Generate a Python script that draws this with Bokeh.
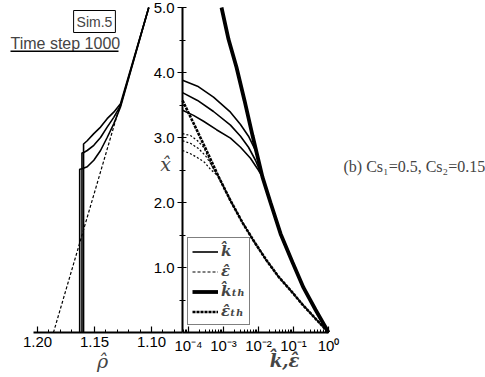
from bokeh.plotting import figure
from bokeh.models import (Range1d, LogScale, LinearAxis, LogAxis, FixedTicker,
                          PrintfTickFormatter, Label, Legend, LegendItem, BoxAnnotation)
from bokeh.embed import file_html
from bokeh.resources import INLINE

# ---------------- data ----------------
# left panel: chi_hat versus rho_hat (reversed axis)
rho_ticks = [1.20, 1.15, 1.10]
rho_tick_labels = ["1.20", "1.15", "1.10"]
rho_minor = [1.20, 1.19, 1.18, 1.17, 1.16, 1.15, 1.14, 1.13, 1.12, 1.11, 1.10, 1.09, 1.08]

eps_left_rho = [1.186, 1.1272]
eps_left_chi = [0.0, 3.52]

k1_left_rho = [1.1024, 1.1272, 1.1331, 1.1389, 1.1447, 1.1506, 1.1564, 1.1596, 1.1596]
k1_left_chi = [5.0, 3.52, 3.39, 3.29, 3.16, 3.06, 2.95, 2.90, 0.0]
k2_left_rho = [1.1024, 1.1272, 1.1331, 1.1389, 1.1447, 1.1506, 1.1564, 1.1594, 1.1610, 1.1610]
k2_left_chi = [5.0, 3.49, 3.31, 3.16, 3.00, 2.88, 2.80, 2.77, 2.76, 0.0]
k3_left_rho = [1.1024, 1.1272, 1.1331, 1.1389, 1.1447, 1.1506, 1.1564, 1.1608, 1.1630, 1.1630]
k3_left_chi = [5.0, 3.47, 3.21, 3.00, 2.80, 2.65, 2.55, 2.52, 2.51, 0.0]

# right panel: chi_hat versus k_hat, eps_hat (log axis)
k_ticks = [1e-4, 1e-3, 1e-2, 1e-1, 1.0]
k_tick_labels = ["10\u207b\u2074", "10\u207b\u00b3", "10\u207b\u00b2", "10\u207b\u00b9", "10\u2070"]

k_th_k = [8.77e-4, 1.39e-3, 2.35e-3, 3.98e-3, 6.75e-3, 1.30e-2, 2.20e-2, 4.26e-2, 9.35e-2, 0.193, 0.426, 1.0]
k_th_chi = [5.0, 4.51, 4.08, 3.57, 3.03, 2.39, 2.00, 1.52, 1.08, 0.69, 0.35, 0.0]

eps_th_k = [6.75e-5, 1.48e-4, 3.27e-4, 7.19e-4, 1.58e-3, 3.49e-3, 7.69e-3, 1.69e-2, 3.72e-2, 8.20e-2, 0.181, 0.398, 1.0]
eps_th_chi = [3.57, 3.19, 2.80, 2.40, 2.03, 1.69, 1.39, 1.11, 0.86, 0.65, 0.43, 0.23, 0.0]

k1_k = [6.75e-5, 1.81e-4, 5.18e-4, 1.58e-3, 3.06e-3, 5.18e-3, 8.20e-3, 1.07e-2, 1.30e-2]
k1_chi = [3.88, 3.79, 3.62, 3.39, 3.20, 3.02, 2.80, 2.60, 2.39]
k2_k = [6.75e-5, 1.81e-4, 5.18e-4, 1.58e-3, 3.06e-3, 5.18e-3, 8.20e-3, 1.30e-2]
k2_chi = [3.69, 3.57, 3.40, 3.19, 3.02, 2.85, 2.65, 2.39]
k3_k = [6.75e-5, 1.39e-4, 2.69e-4, 6.31e-4, 1.58e-3, 3.06e-3, 5.90e-3, 9.35e-3, 1.30e-2]
k3_chi = [3.42, 3.34, 3.25, 3.12, 2.99, 2.85, 2.68, 2.52, 2.39]
k_tail_k = [2.20e-2, 4.26e-2, 9.35e-2, 0.193, 0.426, 1.0]
k_tail_chi = [2.00, 1.52, 1.08, 0.69, 0.35, 0.0]

e1_k = [6.75e-5, 1.14e-4, 1.81e-4, 2.69e-4, 3.72e-4, 4.85e-4, 7.19e-4]
e1_chi = [3.06, 3.03, 2.95, 2.85, 2.69, 2.54, 2.40]
e2_k = [6.75e-5, 1.14e-4, 1.93e-4, 3.06e-4, 4.26e-4, 5.53e-4, 7.19e-4]
e2_chi = [2.95, 2.91, 2.83, 2.72, 2.60, 2.49, 2.40]
e3_k = [6.75e-5, 1.14e-4, 1.81e-4, 2.86e-4, 4.26e-4, 7.19e-4]
e3_chi = [2.80, 2.75, 2.69, 2.62, 2.51, 2.40]
e_tail_k = [1.58e-3, 3.49e-3, 7.69e-3, 1.69e-2, 3.72e-2, 8.20e-2, 0.181, 0.398, 1.0]
e_tail_chi = [2.03, 1.69, 1.39, 1.11, 0.86, 0.65, 0.43, 0.23, 0.0]

chi_ticks = [1.0, 2.0, 3.0, 4.0, 5.0]
chi_minor = [0.5, 1.5, 2.5, 3.5, 4.5]

# ---------------- figure ----------------
p = figure(width=485, height=377, output_backend="svg", toolbar_location=None,
           x_axis_type=None, y_axis_type=None,
           x_range=Range1d(1.23246, 0.80702), y_range=Range1d(-0.6923, 5.1077),
           min_border=0, outline_line_color=None)
p.background_fill_color = "white"
p.border_fill_color = "white"
p.extra_x_ranges = {"log": Range1d(4.25e-10, 3.06e4)}
p.extra_x_scales = {"log": LogScale()}

sans = "Liberation Sans"
serif = "DejaVu Serif"

# left panel lines
r_eps = p.line(eps_left_rho, eps_left_chi, line_color="black", line_width=1.2, line_dash="3 2")
r_k = None
for xs, ys in [(k1_left_rho, k1_left_chi), (k2_left_rho, k2_left_chi), (k3_left_rho, k3_left_chi)]:
    r = p.line(xs, ys, line_color="black", line_width=1.6)
    r_k = r_k or r

# right panel lines
for xs, ys in [(e1_k, e1_chi), (e2_k, e2_chi), (e3_k, e3_chi)]:
    p.line(xs + e_tail_k, ys + e_tail_chi, x_range_name="log",
           line_color="black", line_width=1.2, line_dash="2 2")
for xs, ys in [(k1_k, k1_chi), (k2_k, k2_chi), (k3_k, k3_chi)]:
    p.line(xs + k_tail_k, ys + k_tail_chi, x_range_name="log",
           line_color="black", line_width=1.6)
r_eps_th = p.line(eps_th_k, eps_th_chi, x_range_name="log",
                  line_color="black", line_width=2.6, line_dash="3 1")
r_k_th = p.line(k_th_k, k_th_chi, x_range_name="log",
                line_color="black", line_width=3.8)

# axes
def style_axis(ax):
    ax.axis_line_color = "black"
    ax.axis_line_width = 2
    ax.major_tick_line_color = "black"
    ax.minor_tick_line_color = "black"
    ax.major_tick_line_width = 1.2
    ax.minor_tick_line_width = 1
    ax.major_label_text_font = sans
    ax.major_label_text_font_size = "15px"
    ax.major_label_text_color = "black"

rho_axis = LinearAxis(fixed_location=0, bounds=(1.0728, 1.2035),
                      ticker=FixedTicker(ticks=rho_ticks, minor_ticks=rho_minor),
                      major_label_overrides=dict(zip(rho_ticks, rho_tick_labels)),
                      formatter=PrintfTickFormatter(format="%.2f"))
style_axis(rho_axis)
rho_axis.major_tick_in = 6
rho_axis.major_tick_out = 0
rho_axis.minor_tick_in = 3
rho_axis.minor_tick_out = 0
rho_axis.major_label_standoff = 4
p.add_layout(rho_axis, "below")

k_minor = [m * e for e in [1e-5, 1e-4, 1e-3, 1e-2, 1e-1] for m in range(2, 10) if m * e >= 6.75e-5]
log_axis = LogAxis(x_range_name="log", fixed_location=0, bounds=(6.75e-5, 1.0),
                   ticker=FixedTicker(ticks=k_ticks, minor_ticks=k_minor),
                   major_label_overrides=dict(zip(k_ticks, k_tick_labels)))
style_axis(log_axis)
log_axis.major_tick_in = 6
log_axis.major_tick_out = 0
log_axis.minor_tick_in = 3
log_axis.minor_tick_out = 0
log_axis.major_label_standoff = 4
p.add_layout(log_axis, "below")

y_axis = LinearAxis(fixed_location=1.0728, bounds=(0, 5),
                    ticker=FixedTicker(ticks=chi_ticks, minor_ticks=chi_minor),
                    formatter=PrintfTickFormatter(format="%.1f"))
style_axis(y_axis)
y_axis.major_tick_in = 4
y_axis.major_tick_out = 5
y_axis.minor_tick_in = 3
y_axis.minor_tick_out = 3
y_axis.major_label_standoff = 3
p.add_layout(y_axis, "left")

# legend
legend = Legend(items=[
    LegendItem(label="k\u0302", renderers=[r_k]),
    LegendItem(label="\u03b5\u0302", renderers=[r_eps]),
    LegendItem(label="k\u0302\u209c\u2095", renderers=[r_k_th]),
    LegendItem(label="\u03b5\u0302\u209c\u2095", renderers=[r_eps_th]),
], location=(187, 52), margin=0, padding=4, spacing=2,
   label_height=17, glyph_height=17, glyph_width=26, label_standoff=3,
   border_line_color="black", border_line_width=1.2, background_fill_alpha=1,
   label_text_font=serif, label_text_font_style="bold italic", label_text_font_size="15px")
p.add_layout(legend)

# texts
p.add_layout(Label(x=94, y=356, x_units="screen", y_units="screen", text="Sim.5",
                   text_align="center", text_baseline="middle", text_font=sans,
                   text_font_size="14px", border_line_color="black", border_line_width=1,
                   background_fill_color="white", padding=3))
p.add_layout(Label(x=10, y=334, x_units="screen", y_units="screen", text="Time step 1000",
                   text_align="left", text_baseline="middle", text_font=sans,
                   text_font_size="16px"))
p.add_layout(BoxAnnotation(left=10, right=118, bottom=325.6, top=327.0,
                           left_units="screen", right_units="screen",
                           top_units="screen", bottom_units="screen",
                           fill_color="black", fill_alpha=1, line_color=None))
p.add_layout(Label(x=343, y=211, x_units="screen", y_units="screen",
                   text="(b) Cs\u2081=0.5, Cs\u2082=0.15", text_align="left",
                   text_baseline="alphabetic", text_font="Liberation Serif", text_font_size="16px"))
p.add_layout(Label(x=102, y=17, x_units="screen", y_units="screen", text="\u03c1\u0302",
                   text_align="center", text_baseline="middle", text_font=serif,
                   text_font_style="italic", text_font_size="19px"))
p.add_layout(Label(x=284, y=17, x_units="screen", y_units="screen", text="k\u0302,\u03b5\u0302",
                   text_align="center", text_baseline="middle", text_font=serif,
                   text_font_style="bold italic", text_font_size="18px"))
p.add_layout(Label(x=165, y=214, x_units="screen", y_units="screen", text="x\u0302",
                   text_align="center", text_baseline="middle", text_font=serif,
                   text_font_style="italic", text_font_size="19px"))

open("out.html", "w").write(file_html(p, INLINE))
